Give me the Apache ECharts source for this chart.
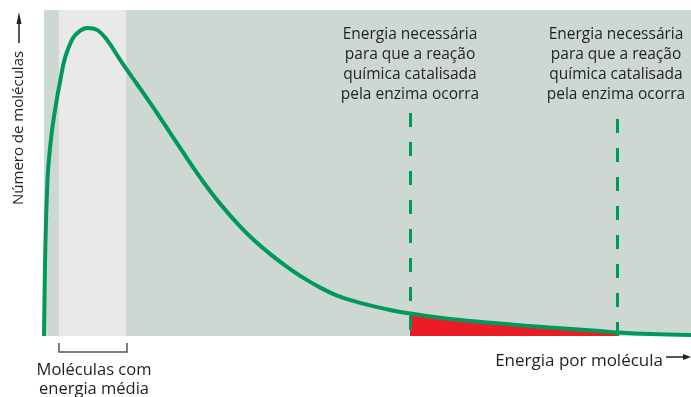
<!DOCTYPE html>
<html>
<head>
<meta charset="utf-8">
<script src="https://cdn.jsdelivr.net/npm/echarts@6/dist/echarts.min.js"></script>
<style>
  html, body { margin: 0; padding: 0; background: #fff; }
  #chart { width: 691px; height: 397px; }
</style>
</head>
<body>
<div id="chart"></div>
<script>
// energia por molécula (unidades arbitrárias) e número de moléculas (%)
const energy = [0, 0.015, 0.026, 0.042, 0.066, 0.119, 0.196, 0.247, 0.325, 0.448, 0.556,
  0.665, 0.819, 0.974, 1.128, 1.283, 1.437, 1.685, 1.947, 2.21, 2.457, 2.72, 3.029,
  3.23, 3.493, 3.725, 4.003, 4.266, 4.529, 4.807, 5.039, 5.348, 5.657,
  6.275, 7.048, 7.821, 8.594, 8.856, 9.366, 10];
const molecules = [0, 21.2, 31.6, 41.7, 51.8, 62.3, 72.4, 77.9, 85.3, 91.4, 93.6,
  94.5, 93.9, 90.8, 86.2, 81.6, 77.3, 70.2, 62.4, 54.5, 47.4, 40.6, 33.6,
  29.7, 25.2, 21.7, 17.9, 14.9, 12.4, 10.6, 9.4, 8.0, 6.9,
  5.2, 3.8, 2.6, 1.5, 1.1, 0.6, 0.3];
// energia de ativação (com enzima) e faixa de energia média
const thresholds = [5.657, 8.856];
const thresholdTop = [68.4, 66.6];
const averageBand = [0.23, 1.27];

const textColor = '#231f20';
const green = '#00995c';
const font = '"Open Sans", "Noto Sans", sans-serif';

const curve = energy.map((e, i) => [e, molecules[i]]);
const tail = curve.filter(p => p[0] >= thresholds[0] && p[0] <= thresholds[1]);

const chart = echarts.init(document.getElementById('chart'));

const annotation = 'Energia necessária\npara que a reação\nquímica catalisada\npela enzima ocorra';

const option = {
  animation: false,
  grid: {
    left: 44, right: 0, top: 10, bottom: 61,
    show: true, backgroundColor: '#ced8d3', borderWidth: 0
  },
  xAxis: { type: 'value', min: 0, max: 10, show: false },
  yAxis: { type: 'value', min: 0, max: 100, show: false },
  series: [
    {
      type: 'line',
      data: tail,
      smooth: 0.4,
      symbol: 'none',
      lineStyle: { width: 0 },
      areaStyle: { color: '#ec1c24', opacity: 1 },
      z: 2
    },
    {
      type: 'line',
      data: curve,
      smooth: 0.4,
      symbol: 'none',
      lineStyle: { color: green, width: 4 },
      z: 3,
      markArea: {
        silent: true,
        itemStyle: { color: '#e9e9e9' },
        data: [[{ xAxis: averageBand[0] }, { xAxis: averageBand[1] }]]
      },
      markLine: {
        silent: true,
        symbol: 'none',
        label: { show: false },
        lineStyle: { color: green, width: 3, type: [14, 15] },
        data: thresholds.map((t, i) => [
          { coord: [t, thresholdTop[i]] },
          { coord: [t, 0] }
        ])
      }
    }
  ],
  graphic: [
    {
      type: 'text',
      x: 410, y: 24.5,
      style: { text: annotation, font: '15.5px ' + font, fill: textColor, align: 'center', lineHeight: 20 }
    },
    {
      type: 'text',
      x: 616, y: 24.5,
      style: { text: annotation, font: '15.5px ' + font, fill: textColor, align: 'center', lineHeight: 20 }
    },
    {
      type: 'text',
      x: 94, y: 361,
      style: { text: 'Moléculas com\nenergia média', font: '16.5px ' + font, fill: textColor, align: 'center', lineHeight: 19 }
    },
    {
      type: 'text',
      x: 663, y: 361,
      style: { text: 'Energia por molécula', font: '17px ' + font, fill: textColor, align: 'right', verticalAlign: 'middle' }
    },
    {
      type: 'line',
      shape: { x1: 666, y1: 357, x2: 684, y2: 357 },
      style: { stroke: textColor, lineWidth: 1.5 }
    },
    {
      type: 'polygon',
      shape: { points: [[691, 357], [683, 354], [683, 360]] },
      style: { fill: textColor }
    },
    {
      type: 'text',
      x: 19, y: 205,
      rotation: Math.PI / 2,
      style: { text: 'Número de moléculas', font: '15px ' + font, fill: textColor, align: 'left', verticalAlign: 'middle' }
    },
    {
      type: 'line',
      shape: { x1: 19, y1: 43, x2: 19, y2: 22 },
      style: { stroke: textColor, lineWidth: 1.5 }
    },
    {
      type: 'polygon',
      shape: { points: [[19, 12], [16.5, 24], [21.5, 24]] },
      style: { fill: textColor }
    },
    {
      type: 'polyline',
      shape: { points: [[59, 343], [59, 352], [127, 352], [127, 343]] },
      style: { stroke: '#555', lineWidth: 1.5, fill: null }
    }
  ]
};

chart.setOption(option);
</script>
</body>
</html>
